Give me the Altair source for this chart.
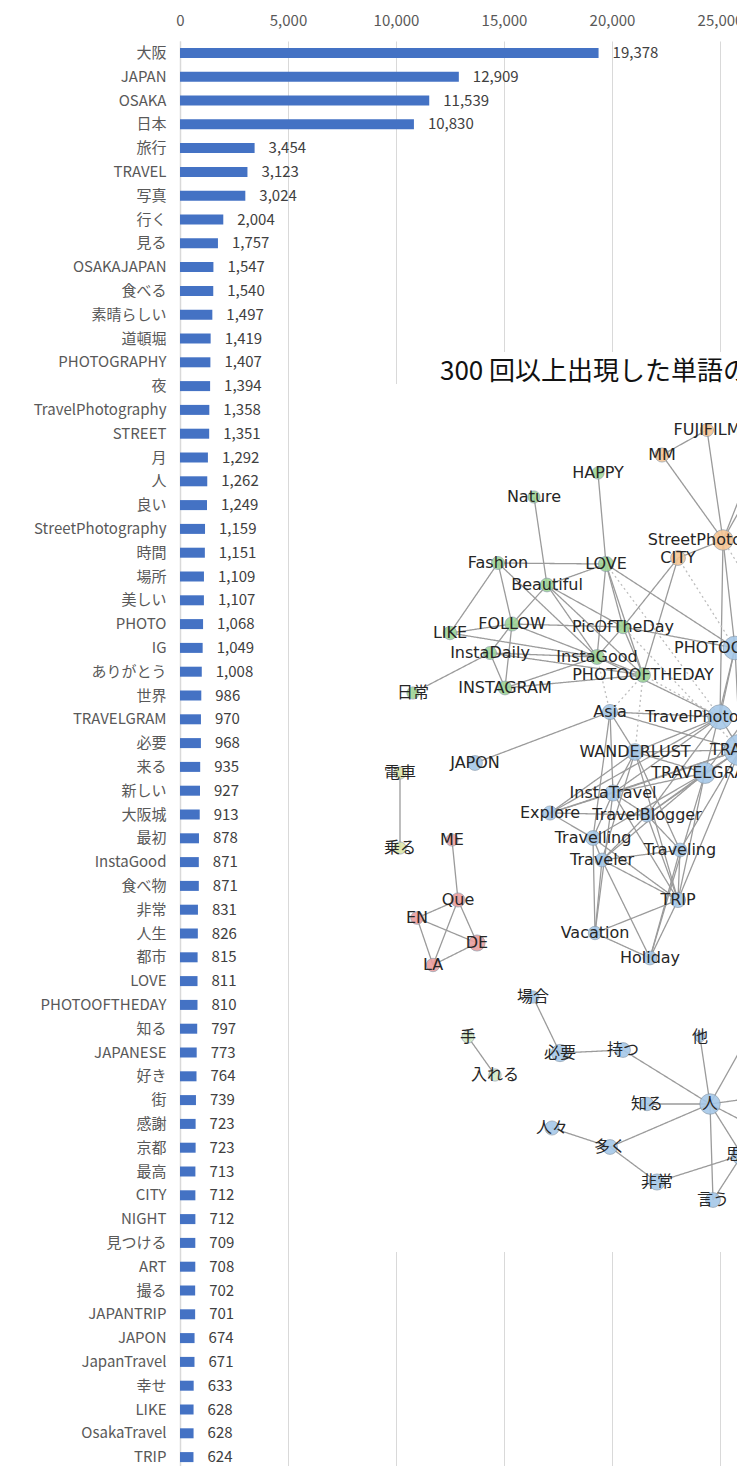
import altair as alt
import pandas as pd

# ---------------- bar chart data ----------------
words = ["大阪", "JAPAN", "OSAKA", "日本", "旅行", "TRAVEL", "写真", "行く", "見る", "OSAKAJAPAN",
         "食べる", "素晴らしい", "道頓堀", "PHOTOGRAPHY", "夜", "TravelPhotography", "STREET", "月", "人", "良い",
         "StreetPhotography", "時間", "場所", "美しい", "PHOTO", "IG", "ありがとう", "世界", "TRAVELGRAM", "必要",
         "来る", "新しい", "大阪城", "最初", "InstaGood", "食べ物", "非常", "人生", "都市", "LOVE",
         "PHOTOOFTHEDAY", "知る", "JAPANESE", "好き", "街", "感謝", "京都", "最高", "CITY", "NIGHT",
         "見つける", "ART", "撮る", "JAPANTRIP", "JAPON", "JapanTravel", "幸せ", "LIKE", "OsakaTravel", "TRIP"]
counts = [19378, 12909, 11539, 10830, 3454, 3123, 3024, 2004, 1757, 1547,
          1540, 1497, 1419, 1407, 1394, 1358, 1351, 1292, 1262, 1249,
          1159, 1151, 1109, 1107, 1068, 1049, 1008, 986, 970, 968,
          935, 927, 913, 878, 871, 871, 831, 826, 815, 811,
          810, 797, 773, 764, 739, 723, 723, 713, 712, 712,
          709, 708, 702, 701, 674, 671, 633, 628, 628, 624]
x_ticks = [0, 5000, 10000, 15000, 20000, 25000]

# ---------------- network inset data ----------------
net_title = "300 回以上出現した単語の共起ネットワーク"
node_names = ["FUJIFILM", "MM", "HAPPY", "Nature", "StreetPhotography", "CITY", "LOVE", "Fashion", "Beautiful",
              "LIKE", "FOLLOW", "PicOfTheDay", "InstaDaily", "InstaGood", "PHOTOOFTHEDAY", "INSTAGRAM", "日常",
              "PHOTOGRAPHY", "Asia", "TravelPhotography", "WANDERLUST", "TRAVEL", "TRAVELGRAM", "JAPON", "電車",
              "InstaTravel", "Explore", "TravelBlogger", "Travelling", "乗る", "ME", "Traveler", "Traveling",
              "TRIP", "Que", "EN", "DE", "LA", "Vacation", "Holiday", "場合", "手", "入れる", "必要", "持つ",
              "他", "知る", "人", "人々", "多く", "非常", "言う", "思う"]
node_x = [707, 662, 598, 534, 723, 678, 606, 498, 547,
          450, 512, 623, 490, 597, 643, 505, 413,
          735, 610, 720, 635, 740, 705, 475, 400,
          613, 550, 647, 593, 400, 452, 602, 680,
          678, 458, 417, 477, 433, 595, 650, 533, 468, 495, 560, 623,
          700, 647, 710, 552, 610, 657, 713, 742]
node_y = [430, 455, 473, 497, 540, 558, 564, 563, 585,
          633, 624, 627, 653, 657, 675, 688, 693,
          648, 712, 717, 752, 750, 773, 763, 773,
          793, 813, 815, 838, 848, 840, 860, 850,
          900, 900, 918, 943, 965, 933, 958, 997, 1037, 1075, 1053, 1050,
          1037, 1104, 1104, 1128, 1147, 1182, 1200, 1155]
node_group = ["orange", "orange", "green", "green", "orange", "orange", "green", "green", "green",
              "green", "green", "green", "green", "green", "green", "green", "green",
              "blue", "blue", "blue", "blue", "blue", "blue", "blue", "yellow",
              "blue", "blue", "blue", "blue", "yellow", "red", "blue", "blue",
              "blue", "red", "red", "red", "red", "blue", "blue", "blue", "pale", "pale", "blue", "blue",
              "blue", "blue", "blue", "blue", "blue", "blue", "blue", "blue"]
node_size = [170, 200, 150, 150, 420, 220, 230, 170, 190,
             180, 200, 180, 170, 220, 220, 190, 150,
             560, 230, 600, 280, 1000, 440, 220, 150,
             260, 200, 200, 220, 150, 150, 190, 190,
             230, 200, 160, 260, 180, 180, 190, 150, 150, 150, 300, 220,
             100, 180, 420, 200, 220, 260, 220, 420]
group_names = ["orange", "green", "blue", "yellow", "red", "pale"]
group_colors = ["#f6c594", "#9fd597", "#a6c8e8", "#dde6a9", "#eb9f9f", "#d3ecc8"]

# off-picture endpoints of edges that leave the inset on the right
ext_names = ["r1", "r2", "r3", "r4", "r5", "r6", "r7"]
ext_x = [760, 760, 760, 760, 760, 760, 760]
ext_y = [446, 474, 600, 700, 1015, 1097, 1130]

edge_from = ["FUJIFILM", "FUJIFILM", "MM", "StreetPhotography", "StreetPhotography", "StreetPhotography",
             "HAPPY", "Nature", "Fashion", "Fashion", "Fashion", "Beautiful", "Beautiful", "Beautiful",
             "Beautiful", "Beautiful", "LOVE", "LOVE", "LOVE", "LIKE", "LIKE", "InstaDaily", "FOLLOW",
             "FOLLOW", "FOLLOW", "FOLLOW", "InstaDaily", "InstaDaily", "INSTAGRAM", "INSTAGRAM", "InstaGood",
             "PicOfTheDay", "PicOfTheDay", "InstaDaily", "Fashion",
             "JAPON", "Asia", "Asia", "Asia", "Asia", "Asia", "TravelPhotography", "TravelPhotography",
             "PHOTOGRAPHY", "PHOTOGRAPHY", "TravelPhotography", "TravelPhotography", "TravelPhotography",
             "TravelPhotography", "WANDERLUST", "WANDERLUST", "WANDERLUST", "WANDERLUST", "WANDERLUST",
             "WANDERLUST", "WANDERLUST", "TRAVEL", "TRAVEL", "TRAVEL", "TRAVEL", "TRAVEL", "TRAVEL",
             "TRAVELGRAM", "TRAVELGRAM", "TRAVELGRAM", "TRAVELGRAM", "TRAVELGRAM", "TRAVELGRAM",
             "InstaTravel", "InstaTravel", "InstaTravel", "InstaTravel", "Explore", "Explore",
             "TravelBlogger", "TravelBlogger", "TravelBlogger", "Travelling", "Travelling", "Travelling",
             "Traveler", "Traveler", "Traveler", "Traveler", "Traveling", "Traveling", "TRIP", "TRIP",
             "Vacation", "InstaTravel", "PHOTOGRAPHY", "TRAVELGRAM",
             "電車", "ME", "Que", "Que", "Que", "EN", "EN", "LA",
             "手", "場合", "必要", "持つ", "他", "知る", "人", "人々", "多く", "非常", "思う", "人", "人",
             "人", "人", "人",
             "LOVE", "CITY", "CITY", "StreetPhotography", "StreetPhotography", "PicOfTheDay",
             "InstaGood", "PHOTOOFTHEDAY", "PHOTOOFTHEDAY", "InstaGood", "PHOTOOFTHEDAY", "CITY",
             "LOVE", "PicOfTheDay", "StreetPhotography"]
edge_to = ["MM", "StreetPhotography", "StreetPhotography", "CITY", "r1", "r2",
           "LOVE", "Beautiful", "LOVE", "LIKE", "FOLLOW", "LOVE", "FOLLOW", "PicOfTheDay",
           "InstaGood", "PHOTOOFTHEDAY", "PicOfTheDay", "PHOTOOFTHEDAY", "InstaGood", "FOLLOW", "InstaGood",
           "日常", "InstaDaily", "INSTAGRAM", "InstaGood", "PicOfTheDay", "InstaGood", "INSTAGRAM",
           "InstaGood", "PHOTOOFTHEDAY", "PHOTOOFTHEDAY", "PHOTOOFTHEDAY", "InstaGood", "PHOTOOFTHEDAY",
           "InstaGood",
           "Asia", "TravelPhotography", "WANDERLUST", "Travelling", "InstaTravel", "TRAVEL", "TRAVEL",
           "PHOTOGRAPHY", "TRAVEL", "TRAVELGRAM", "WANDERLUST", "InstaTravel", "Explore", "TravelBlogger",
           "TRAVEL", "TRAVELGRAM", "InstaTravel", "Traveler", "Traveling", "TRIP", "Explore",
           "TRAVELGRAM", "InstaTravel", "TravelBlogger", "Traveling", "TRIP", "Explore",
           "InstaTravel", "TravelBlogger", "Travelling", "Traveler", "TRIP", "Holiday",
           "Explore", "Travelling", "TravelBlogger", "TRIP", "TravelBlogger", "Travelling",
           "Traveling", "Traveler", "TRIP", "Traveler", "TRIP", "Vacation",
           "Traveling", "TRIP", "Holiday", "Vacation", "TRIP", "Holiday", "Vacation", "Holiday",
           "Holiday", "Vacation", "r3", "r4",
           "乗る", "Que", "EN", "DE", "LA", "DE", "LA", "DE",
           "入れる", "必要", "持つ", "人", "人", "人", "多く", "多く", "非常", "思う", "言う", "言う", "思う",
           "r5", "r6", "r7",
           "PHOTOGRAPHY", "PHOTOOFTHEDAY", "PicOfTheDay", "PHOTOGRAPHY", "TravelPhotography", "PHOTOGRAPHY",
           "TravelPhotography", "TravelPhotography", "Asia", "Asia", "WANDERLUST", "PHOTOGRAPHY",
           "TravelPhotography", "TRAVEL", "r3"]
n_solid = 123
edge_kind = ["solid"] * n_solid + ["dotted"] * (len(edge_from) - n_solid)

# white background of the inset picture: [x1, x2, y1, y2]
box_x1 = [398, 383]
box_x2 = [760, 760]
box_y1 = [352, 384]
box_y2 = [1252, 1252]

# ---------------- layout ----------------
FONT = "Noto Sans CJK JP"
NODE_FONT = "DejaVu Sans, Noto Sans CJK JP"
PAD_L, PAD_T = 172, 33
PLOT_L, PLOT_T = 8 + PAD_L, 8 + PAD_T
PLOT_W = 557
PLOT_H = round(23.8 * len(words))
PAD_B = 1458 - PAD_T - PLOT_H
XMAX = 25787

df = pd.DataFrame({"word": words, "count": counts})

x_axis = alt.Axis(orient="top", title=None, values=x_ticks, labelExpr="format(datum.value, ',')",
                  ticks=False, domain=False,
                  grid=True, gridColor="#d9d9d9", gridWidth=1, labelFont=FONT, labelFontSize=15,
                  labelColor="#595959", labelPadding=13, labelFlush=False)
y_axis = alt.Axis(title=None, ticks=False, domain=True, domainColor="#d9d9d9", domainWidth=1.5,
                  labelFont=FONT, labelFontSize=15, labelColor="#595959", labelPadding=14,
                  labelLimit=400, grid=False)

x_enc = alt.X("count:Q", scale=alt.Scale(domain=[0, XMAX], nice=False), axis=x_axis)
y_enc = alt.Y("word:N", sort=None, scale=alt.Scale(paddingInner=0, paddingOuter=0), axis=y_axis)

bars = alt.Chart(df).mark_bar(size=10, color="#4472C4").encode(x=x_enc, y=y_enc)
values = alt.Chart(df).mark_text(align="left", baseline="middle", dx=14, font=FONT, fontSize=15,
                                 color="#404040").encode(
    x="count:Q", y=alt.Y("word:N", sort=None), text=alt.Text("count:Q", format=","))
bar_layer = alt.layer(bars, values)

# network tables
pos = {n: (x, y) for n, x, y in zip(node_names, node_x, node_y)}
pos.update({n: (x, y) for n, x, y in zip(ext_names, ext_x, ext_y)})
edges = pd.DataFrame({
    "x1": [pos[a][0] for a in edge_from], "y1": [pos[a][1] for a in edge_from],
    "x2": [pos[b][0] for b in edge_to], "y2": [pos[b][1] for b in edge_to],
    "kind": edge_kind,
})
nodes = pd.DataFrame({"name": node_names, "nx": node_x, "ny": node_y, "group": node_group, "size": node_size})
boxes = pd.DataFrame({"x1": box_x1, "x2": box_x2, "y1": box_y1, "y2": box_y2})
title_df = pd.DataFrame({"t": [net_title], "nx": [440], "ny": [372]})

nxs = alt.Scale(domain=[PLOT_L, PLOT_L + PLOT_W], range=[0, PLOT_W], nice=False, zero=False)
nys = alt.Scale(domain=[PLOT_T, PLOT_T + PLOT_H], range=[0, PLOT_H], nice=False, zero=False)

box_layer = alt.Chart(boxes).mark_rect(color="white", clip=True).encode(
    x=alt.X("x1:Q", scale=nxs, axis=None), x2="x2:Q",
    y=alt.Y("y1:Q", scale=nys, axis=None), y2="y2:Q")
edge_layer = alt.Chart(edges).mark_rule(strokeWidth=1.3, clip=True).encode(
    x=alt.X("x1:Q", scale=nxs, axis=None), x2="x2:Q",
    y=alt.Y("y1:Q", scale=nys, axis=None), y2="y2:Q",
    color=alt.Color("kind:N", scale=alt.Scale(domain=["solid", "dotted"], range=["#9b9b9b", "#bdbdbd"]),
                    legend=None),
    strokeDash=alt.StrokeDash("kind:N", scale=alt.Scale(domain=["solid", "dotted"], range=[[1, 0], [2, 3]]),
                              legend=None))
node_layer = alt.Chart(nodes).mark_circle(opacity=0.9, stroke="#8796a6", strokeWidth=0.7, clip=True).encode(
    x=alt.X("nx:Q", scale=nxs, axis=None), y=alt.Y("ny:Q", scale=nys, axis=None),
    size=alt.Size("size:Q", scale=None, legend=None),
    fill=alt.Fill("group:N", scale=alt.Scale(domain=group_names, range=group_colors), legend=None))
label_layer = alt.Chart(nodes).mark_text(font=NODE_FONT, fontSize=16, color="#262626", clip=True).encode(
    x=alt.X("nx:Q", scale=nxs, axis=None), y=alt.Y("ny:Q", scale=nys, axis=None), text="name:N")
title_layer = alt.Chart(title_df).mark_text(align="left", baseline="middle", font=FONT, fontSize=26,
                                            color="#111111", clip=True).encode(
    x=alt.X("nx:Q", scale=nxs, axis=None), y=alt.Y("ny:Q", scale=nys, axis=None), text="t:N")
net_layer = alt.layer(box_layer, edge_layer, node_layer, label_layer, title_layer)

chart = alt.layer(bar_layer, net_layer).resolve_scale(
    x="independent", y="independent", color="independent"
).properties(
    width=PLOT_W, height=PLOT_H,
    autosize=alt.AutoSizeParams(type="none"),
    padding={"left": PAD_L, "top": PAD_T, "right": 0, "bottom": PAD_B},
).configure_view(stroke=None)

chart.save("out.html", embed_options={"renderer": "svg", "actions": False})
